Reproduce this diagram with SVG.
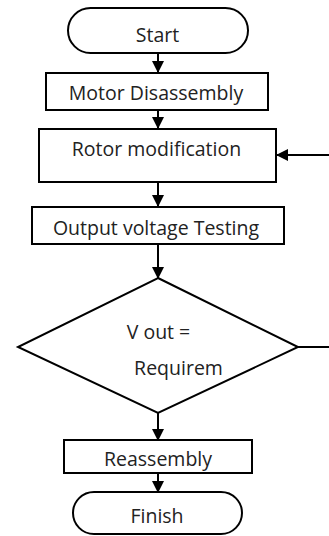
<svg xmlns="http://www.w3.org/2000/svg" width="329" height="536" viewBox="0 0 329 536">
<defs>
<marker id="ah" markerWidth="12" markerHeight="12" refX="11" refY="6" orient="auto" markerUnits="userSpaceOnUse">
<path d="M0,0 L12,6 L0,12 Z" fill="#000"/>
</marker>
<style>
.s{fill:#fff;stroke:#000;stroke-width:2}
.c{fill:none;stroke:#000;stroke-width:2}
.t{font-family:"Open Sans","Liberation Sans",sans-serif;font-size:19.5px;fill:#222;text-anchor:middle}
</style>
</defs>
<rect width="329" height="536" fill="#fff"/>
<g id="connectors">
<line class="c" x1="158" y1="53" x2="158" y2="72" marker-end="url(#ah)"/>
<line class="c" x1="158" y1="110" x2="158" y2="128" marker-end="url(#ah)"/>
<line class="c" x1="158" y1="182" x2="158" y2="206" marker-end="url(#ah)"/>
<line class="c" x1="158" y1="244" x2="158" y2="278" marker-end="url(#ah)"/>
<line class="c" x1="158" y1="413" x2="158" y2="440" marker-end="url(#ah)"/>
<line class="c" x1="158" y1="473" x2="158" y2="492" marker-end="url(#ah)"/>
<line class="c" x1="298" y1="347" x2="329" y2="347"/>
<line class="c" x1="329" y1="155" x2="277" y2="155" marker-end="url(#ah)"/>
</g>
<g id="start">
<rect class="s" x="68" y="8" width="180" height="45" rx="22.5"/>
<text class="t" x="157.5" y="42">Start</text>
</g>
<g id="disassembly">
<rect class="s" x="46" y="73" width="222" height="37"/>
<text class="t" x="156" y="100">Motor Disassembly</text>
</g>
<g id="rotor">
<rect class="s" x="39" y="129" width="237" height="53"/>
<text class="t" x="156.5" y="156">Rotor modification</text>
</g>
<g id="testing">
<rect class="s" x="32" y="207" width="252" height="37"/>
<text class="t" x="156" y="235">Output voltage Testing</text>
</g>
<g id="decision">
<polygon class="s" points="158,278 298,347 158,413 18,347"/>
<text class="t" x="158.5" y="339">V out =</text>
<text class="t" x="178.5" y="375">Requirem</text>
</g>
<g id="reassembly">
<rect class="s" x="64" y="440" width="188" height="33"/>
<text class="t" x="158" y="466">Reassembly</text>
</g>
<g id="finish">
<rect class="s" x="73" y="492" width="169" height="42" rx="21"/>
<text class="t" x="157" y="523">Finish</text>
</g>
</svg>
